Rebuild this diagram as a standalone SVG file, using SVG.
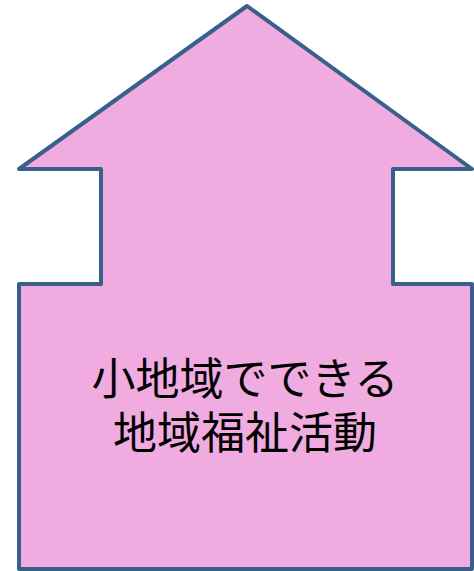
<svg xmlns="http://www.w3.org/2000/svg" width="474" height="571" viewBox="0 0 474 571">
<style>
.shape{fill:#f0abe0;stroke:#3a5f8b;stroke-width:4;stroke-linejoin:round}
.lbl{font-family:"Noto Sans CJK JP","Liberation Sans",sans-serif;font-size:44px;fill:#000;text-anchor:middle}
</style>
<rect width="474" height="571" fill="#fff"/>
<g id="arrow">
<path class="shape" d="M247,6 L472,169 L393,169 L393,284 L472,284 L472,569 L19,569 L19,284 L101,284 L101,169 L19,169 Z"/>
<text class="lbl" x="245" y="395">小地域でできる</text>
<text class="lbl" x="245" y="449">地域福祉活動</text>
</g>
</svg>
